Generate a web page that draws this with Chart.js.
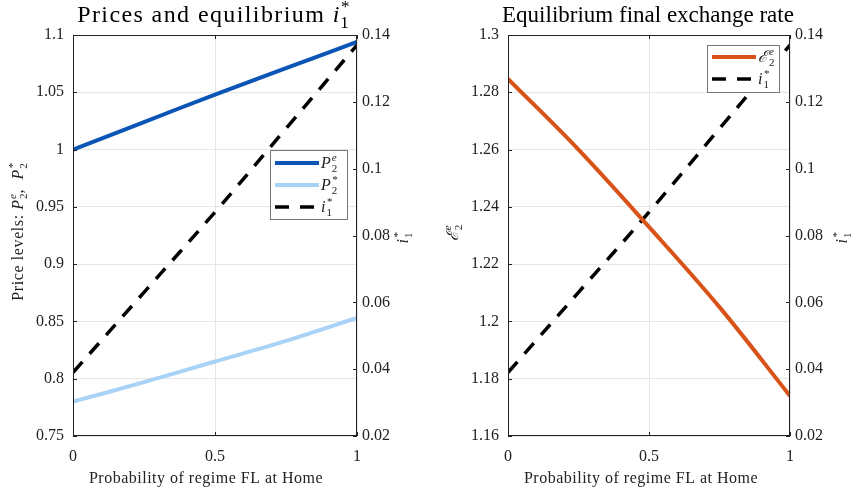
<!DOCTYPE html>
<html>
<head>
<meta charset="utf-8">
<script src="https://cdn.jsdelivr.net/npm/chart.js@4.4.0/dist/chart.umd.min.js"></script>
<style>
body { margin: 0; background: #fff; }
#wrap { position: relative; width: 858px; height: 496px; }
canvas { position: absolute; top: 0; }
</style>
</head>
<body>
<div id="wrap">
  <canvas id="pricesChart" width="429" height="496" style="left:0"></canvas>
  <canvas id="rateChart" width="429" height="496" style="left:429px"></canvas>
</div>
<script>
// probability of regime FL at Home
var probFL = [0, 0.25, 0.5, 0.75, 1];
// left panel
var priceHome = [1.000, 1.024, 1.048, 1.071, 1.094];
var priceForeign = [0.780, 0.797, 0.815, 0.833, 0.853];
var rateForeign = [0.039, 0.063, 0.087, 0.112, 0.137];
// right panel
var exchRate = [1.2847, 1.260, 1.233, 1.205, 1.174];

var xTicks = [0, 0.5, 1];
var priceTicks = [0.75, 0.8, 0.85, 0.9, 0.95, 1, 1.05, 1.1];
var exchTicks = [1.16, 1.18, 1.2, 1.22, 1.24, 1.26, 1.28, 1.3];
var rateTicks = [0.02, 0.04, 0.06, 0.08, 0.1, 0.12, 0.14];

var SERIF = "'Liberation Serif','DejaVu Serif',serif";
var INK = '#222';

function pts(ys) {
    return probFL.map(function (p, i) { return { x: p, y: ys[i] }; });
}
function fmt(v) { return String(Math.round(v * 100) / 100); }

// italic symbol with stacked super/subscript, returns width
function mathSym(ctx, x, y, base, sup, sub, size, draw) {
    ctx.font = 'italic ' + size + 'px ' + SERIF;
    var w = ctx.measureText(base).width;
    if (draw) ctx.fillText(base, x, y);
    var s = Math.round(size * 0.7);
    ctx.font = 'italic ' + s + 'px ' + SERIF;
    var w1 = sup ? ctx.measureText(sup).width : 0;
    if (draw && sup) ctx.fillText(sup, x + w + 1, y - size * 0.42);
    ctx.font = s + 'px ' + SERIF;
    var w2 = sub ? ctx.measureText(sub).width : 0;
    if (draw && sub) ctx.fillText(sub, x + w + 1, y + size * 0.25);
    return w + 1 + Math.max(w1, w2);
}

// sequence of parts: strings are upright text, arrays are math symbols
function drawParts(ctx, parts, cx, y, size, spacing) {
    ctx.textAlign = 'left';
    ctx.textBaseline = 'alphabetic';
    var sp = (spacing || 0) + 'px';
    var total = 0;
    parts.forEach(function (p) {
        if (typeof p === 'string') { ctx.letterSpacing = sp; ctx.font = size + 'px ' + SERIF; total += ctx.measureText(p).width; }
        else { ctx.letterSpacing = '0px'; total += mathSym(ctx, 0, 0, p[0], p[1], p[2], size, false); }
    });
    var x = cx - total / 2;
    parts.forEach(function (p) {
        if (typeof p === 'string') { ctx.letterSpacing = sp; ctx.font = size + 'px ' + SERIF; ctx.fillText(p, x, y); x += ctx.measureText(p).width; }
        else { ctx.letterSpacing = '0px'; x += mathSym(ctx, x, y, p[0], p[1], p[2], size, true); }
    });
    ctx.letterSpacing = '0px';
}

function makeDecor(cfg) {
    return {
        id: 'decor',
        afterDatasetsDraw: function (chart) {
            var ctx = chart.ctx, a = chart.chartArea;
            ctx.save();
            // box and inward ticks
            ctx.strokeStyle = INK;
            ctx.lineWidth = 1;
            ctx.strokeRect(a.left + 0.5, a.top + 0.5, a.right - a.left - 1, a.bottom - a.top - 1);
            ctx.beginPath();
            chart.scales.x.ticks.forEach(function (t) {
                var px = Math.round(chart.scales.x.getPixelForValue(t.value)) + 0.5;
                ctx.moveTo(px, a.bottom); ctx.lineTo(px, a.bottom - 4);
                ctx.moveTo(px, a.top); ctx.lineTo(px, a.top + 4);
            });
            chart.scales.y.ticks.forEach(function (t) {
                var py = Math.round(chart.scales.y.getPixelForValue(t.value)) + 0.5;
                ctx.moveTo(a.left, py); ctx.lineTo(a.left + 4, py);
            });
            chart.scales.y2.ticks.forEach(function (t) {
                var py = Math.round(chart.scales.y2.getPixelForValue(t.value)) + 0.5;
                ctx.moveTo(a.right, py); ctx.lineTo(a.right - 4, py);
            });
            ctx.stroke();

            // legend
            var L = cfg.legend;
            ctx.fillStyle = '#fff';
            ctx.fillRect(L.x, L.y, L.w, L.h);
            ctx.strokeStyle = '#777';
            ctx.strokeRect(L.x + 0.5, L.y + 0.5, L.w, L.h);
            chart.data.datasets.forEach(function (ds, i) {
                var ly = L.y + L.first + i * L.step;
                ctx.strokeStyle = ds.borderColor;
                ctx.lineWidth = ds.borderWidth;
                ctx.setLineDash(ds.borderDash || []);
                ctx.beginPath();
                ctx.moveTo(L.x + 5, ly); ctx.lineTo(L.x + 49, ly);
                ctx.stroke();
                ctx.setLineDash([]);
                ctx.fillStyle = INK;
                var m = cfg.legendSyms[i];
                mathSym(ctx, L.x + 51, ly + 5, m[0], m[1], m[2], 16, true);
            });

            // titles and axis labels
            ctx.fillStyle = '#000';
            drawParts(ctx, cfg.title, cfg.titleX, 22, cfg.titleSize, cfg.titleSpacing);
            ctx.fillStyle = INK;
            drawParts(ctx, ['Probability of regime FL at Home'], cfg.xLabelX, 483, 16, 0.5);
            ctx.save();
            ctx.translate(cfg.yLabelX, cfg.yLabelY);
            ctx.rotate(-Math.PI / 2);
            drawParts(ctx, cfg.yLabel, 0, 0, 16, 0.6);
            ctx.restore();
            ctx.save();
            ctx.translate(cfg.y2LabelX, 238);
            ctx.rotate(-Math.PI / 2);
            drawParts(ctx, [['i', '*', '1']], 0, 0, 16);
            ctx.restore();
            ctx.restore();
        }
    };
}

function scalesFor(leftMin, leftMax, leftWidth, rightWidth) {
    var tickFont = { family: SERIF, size: 16 };
    return {
        x: {
            type: 'linear', min: 0, max: 1,
            afterBuildTicks: function (s) { s.ticks = xTicks.map(function (v) { return { value: v }; }); },
            ticks: { callback: fmt, font: tickFont, color: INK, padding: 11, maxRotation: 0 },
            grid: { color: '#e6e6e6', drawTicks: false },
            border: { display: false },
            afterFit: function (s) { s.height = 60; }
        },
        y: {
            position: 'left', min: leftMin, max: leftMax,
            afterBuildTicks: function (s) {
                var list = leftMin < 1 ? priceTicks : exchTicks;
                s.ticks = list.map(function (v) { return { value: v }; });
            },
            ticks: { callback: fmt, font: tickFont, color: INK, padding: 9 },
            grid: { color: '#e6e6e6', drawTicks: false },
            border: { display: false },
            afterFit: function (s) { s.width = leftWidth; }
        },
        y2: {
            position: 'right', min: 0.02, max: 0.14,
            afterBuildTicks: function (s) { s.ticks = rateTicks.map(function (v) { return { value: v }; }); },
            ticks: { callback: fmt, font: tickFont, color: INK, padding: 5 },
            grid: { display: false, drawTicks: false },
            border: { display: false },
            afterFit: function (s) { s.width = rightWidth; }
        }
    };
}

var common = {
    responsive: false,
    animation: false,
    layout: { padding: { top: 35, left: 0, right: 0, bottom: 0 } },
    plugins: { legend: { display: false }, tooltip: { enabled: false } },
    elements: { point: { radius: 0 }, line: { tension: 0.35 } }
};

var ctxPrices = document.getElementById('pricesChart').getContext('2d');
var pricesChart = new Chart(ctxPrices, {
    type: 'line',
    data: {
        datasets: [
            { label: 'P2e', data: pts(priceHome), borderColor: '#0a55b6', borderWidth: 4, yAxisID: 'y' },
            { label: 'P2*', data: pts(priceForeign), borderColor: '#a9d2f7', borderWidth: 4, yAxisID: 'y' },
            { label: 'i1*', data: pts(rateForeign), borderColor: '#000', borderWidth: 3.5, borderDash: [14, 11], yAxisID: 'y2' }
        ]
    },
    options: Object.assign({}, common, { scales: scalesFor(0.75, 1.1, 73, 72) }),
    plugins: [makeDecor({
        legend: { x: 270, y: 150, w: 77, h: 69, first: 13, step: 22 },
        legendSyms: [['P', 'e', '2'], ['P', '*', '2'], ['i', '*', '1']],
        title: ['Prices and equilibrium ', ['i', '*', '1']],
        titleX: 213, titleSize: 24, titleSpacing: 1.4,
        xLabelX: 206,
        yLabel: ['Price levels: ', ['P', 'e', '2'], ',  ', ['P', '*', '2']],
        yLabelX: 23, yLabelY: 232,
        y2LabelX: 408
    })]
});

var ctxRate = document.getElementById('rateChart').getContext('2d');
var rateChart = new Chart(ctxRate, {
    type: 'line',
    data: {
        datasets: [
            { label: 'E2e', data: pts(exchRate), borderColor: '#d95319', borderWidth: 4, yAxisID: 'y' },
            { label: 'i1*', data: pts(rateForeign), borderColor: '#000', borderWidth: 3.5, borderDash: [14, 11], yAxisID: 'y2' }
        ]
    },
    options: Object.assign({}, common, { scales: scalesFor(1.16, 1.3, 79, 68) }),
    plugins: [makeDecor({
        legend: { x: 278, y: 45, w: 72, h: 47, first: 12, step: 22 },
        legendSyms: [['\u2130', 'e', '2'], ['i', '*', '1']],
        title: ['Equilibrium final exchange rate'],
        titleX: 219, titleSize: 23, titleSpacing: 0,
        xLabelX: 212,
        yLabel: [['\u2130', 'e', '2']],
        yLabelX: 29, yLabelY: 233,
        y2LabelX: 418
    })]
});
</script>
</body>
</html>
